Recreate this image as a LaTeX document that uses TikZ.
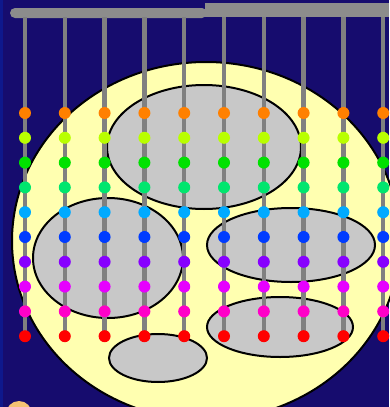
\documentclass[tikz,border=0pt]{standalone}
\definecolor{bgnavy}{RGB}{22,12,110}
\definecolor{edgeblue}{RGB}{14,24,140}
\definecolor{bargray}{RGB}{140,140,140}
\definecolor{rodgray}{RGB}{128,128,128}
\definecolor{paleyellow}{RGB}{255,255,176}
\definecolor{blobgray}{RGB}{200,200,200}
\definecolor{peach}{RGB}{245,195,115}
\definecolor{d1}{RGB}{255,128,0}
\definecolor{d2}{RGB}{185,255,0}
\definecolor{d3}{RGB}{0,225,0}
\definecolor{d4}{RGB}{0,230,110}
\definecolor{d5}{RGB}{0,170,255}
\definecolor{d6}{RGB}{0,60,255}
\definecolor{d7}{RGB}{135,0,255}
\definecolor{d8}{RGB}{230,0,255}
\definecolor{d9}{RGB}{255,0,200}
\definecolor{d10}{RGB}{255,0,0}
\tikzset{
  blob/.style={fill=blobgray, draw=black, line width=2pt},
  bigdisc/.style={fill=paleyellow, draw=black, line width=2pt},
  rod/.style={draw=rodgray, line width=4.5pt},
  bead/.style={circle, inner sep=0pt, minimum size=12pt}
}
\begin{document}
\begin{tikzpicture}[x=1pt,y=-1pt]
\useasboundingbox (0,0) rectangle (389,407);
\fill[bgnavy] (0,0) rectangle (389,407);
\fill[edgeblue] (0,0) rectangle (3,407);
% top bar
\fill[bargray] (205,3) rectangle (389,17);
\fill[bargray, rounded corners=5pt] (10,8) rectangle (207,18);
% big pale disc
\draw[bigdisc] (206,241) ellipse [x radius=194, y radius=179];
% peach disc at lower left
\fill[peach] (19,414) circle (13);
% grey blobs
\draw[blob] (204,147) ellipse [x radius=97, y radius=62];
\draw[blob] (108,258) ellipse [x radius=75, y radius=60];
\draw[blob] (291,245) ellipse [x radius=84, y radius=37];
\draw[blob] (280,327) ellipse [x radius=73, y radius=30];
\draw[blob] (158,358) ellipse [x radius=49, y radius=24];
% rods and beads
\foreach \j in {0,...,9} {
  \pgfmathsetmacro{\rx}{25+39.8*\j}
  \coordinate (top\j) at (\rx,17);
  \coordinate (bot\j) at (\rx,336);
  \draw[rod] (top\j) -- (bot\j);
  \foreach \i in {1,...,10} {
    \pgfmathsetmacro{\ry}{113+24.8*(\i-1)}
    \node[bead, fill=d\i] (b\j-\i) at (\rx,\ry) {};
  }
}
\end{tikzpicture}
\end{document}
